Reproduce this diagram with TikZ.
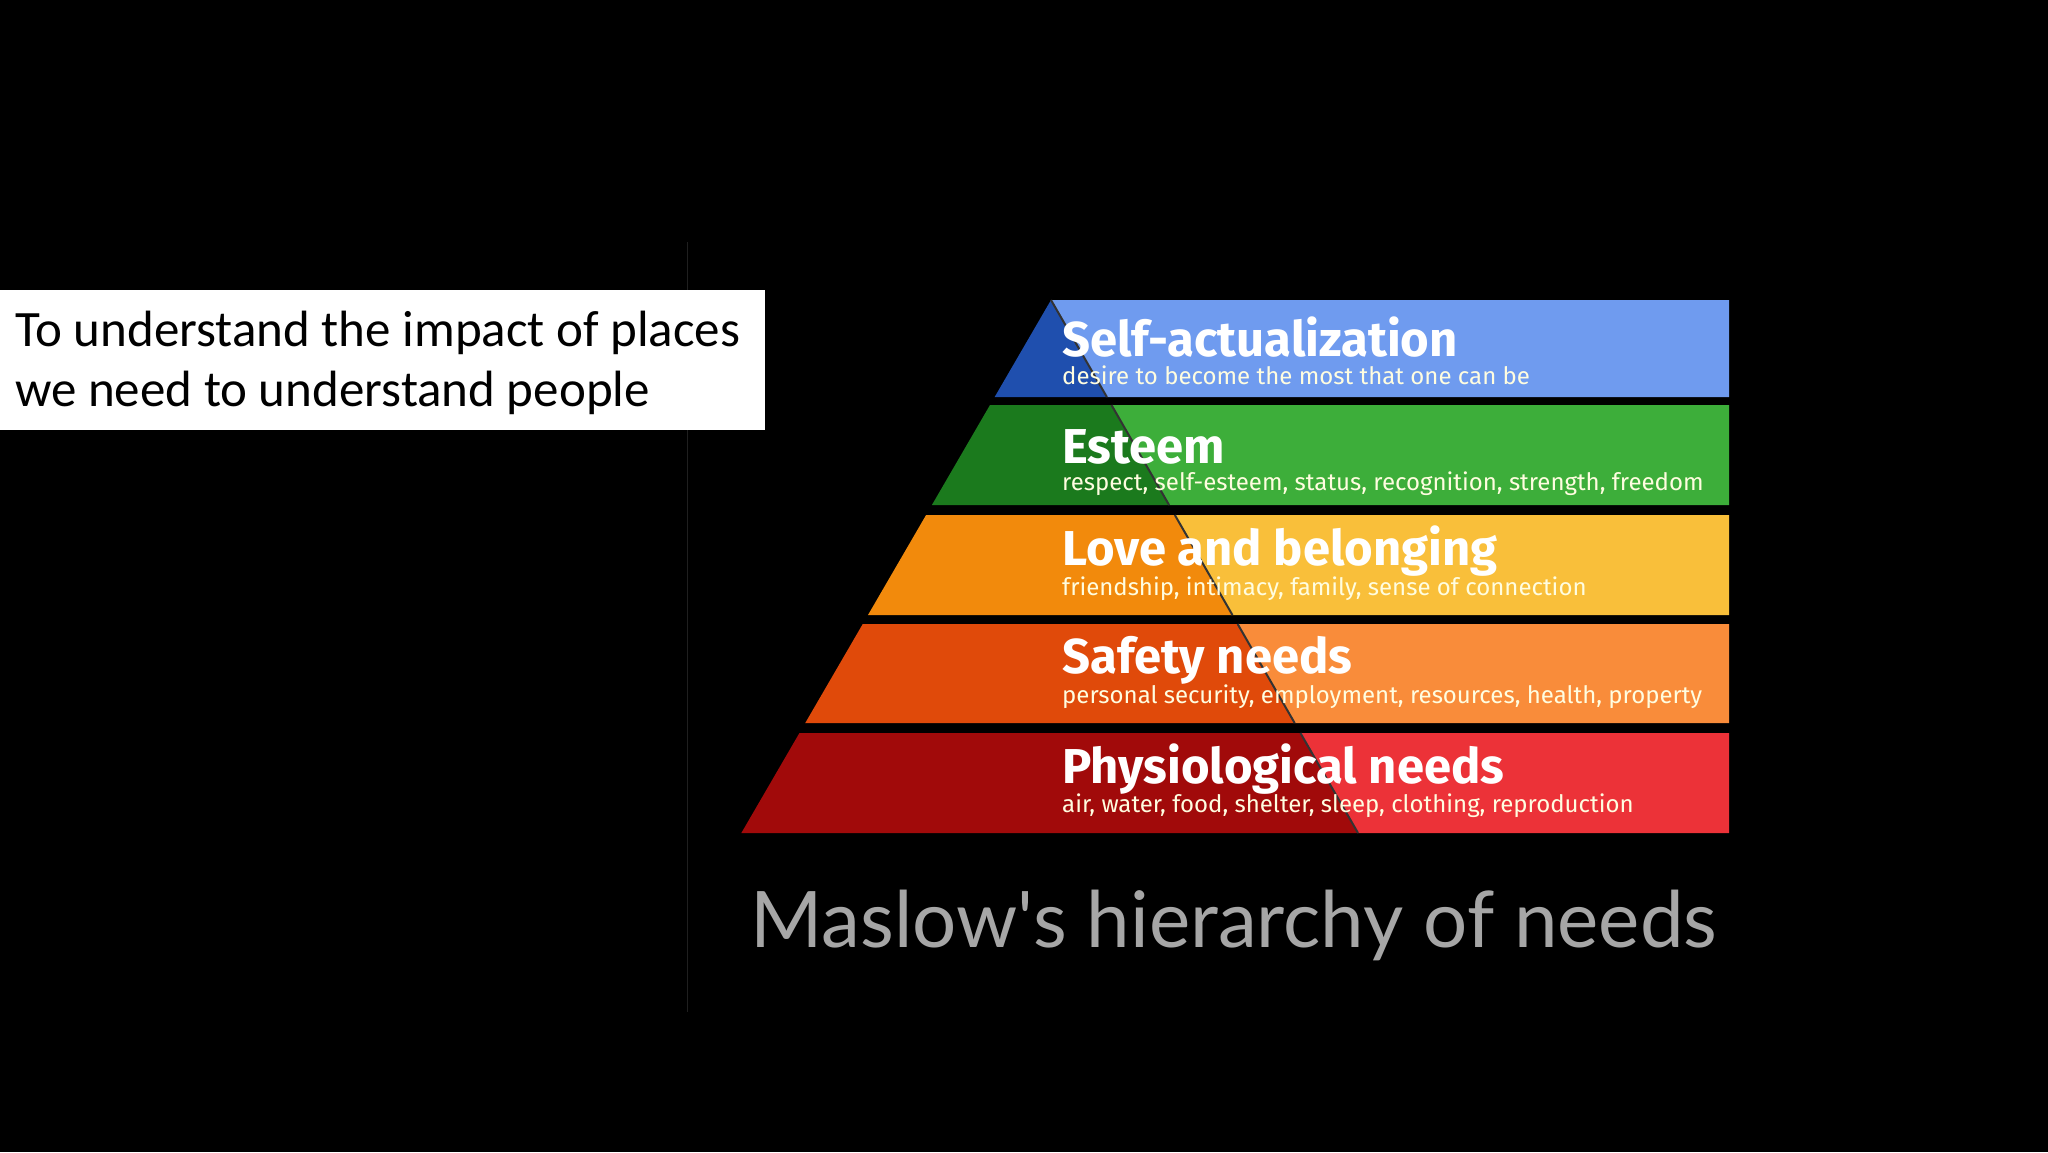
\documentclass[tikz,border=0pt]{standalone}
\usepackage{fontspec}
\setmainfont{Carlito}
\newfontfamily\fira{Fira Sans}
\newfontfamily\lato{Lato}
\definecolor{saD}{HTML}{1F4FAE}\definecolor{saL}{HTML}{6F9BEF}
\definecolor{esD}{HTML}{1B7A1D}\definecolor{esL}{HTML}{3DAE3A}
\definecolor{lbD}{HTML}{F28A0C}\definecolor{lbL}{HTML}{F9BF3A}
\definecolor{sfD}{HTML}{E04A0A}\definecolor{sfL}{HTML}{F98C3A}
\definecolor{phD}{HTML}{A10A0A}\definecolor{phL}{HTML}{EC3238}
\newcommand\mybandtile[4]{%
  \pgfmathsetmacro\lt{1051-0.581*(#1-300)}\pgfmathsetmacro\lb{1051-0.581*(#2-300)}%
  \pgfmathsetmacro\dt{1051+0.576*(#1-300)}\pgfmathsetmacro\db{1051+0.576*(#2-300)}%
  \fill[#3] (\lt,#1) -- (\dt,#1) -- (\db,#2) -- (\lb,#2) -- cycle;
  \fill[#4] (\dt,#1) -- (1729,#1) -- (1729,#2) -- (\db,#2) -- cycle;
  \draw[black!80,line width=2pt] (\dt,#1) -- (\db,#2);}
\tikzset{ttl/.style={anchor=west,text=white,font=\fira\bfseries\fontsize{49}{52}\selectfont,inner sep=0pt},
 sub/.style={anchor=west,text=white!88!yellow,font=\fira\fontsize{24}{28}\selectfont,inner sep=0pt}}
\begin{document}
\begin{tikzpicture}[x=1pt,y=-1pt]
\fill[black] (0,0) rectangle (2048,1152);
\useasboundingbox (0,0) rectangle (2048,1152);
\draw[black!88!white,line width=1pt] (687,242) -- (687,1012);
\fill[white] (0,290) rectangle (765,430);
\node[anchor=base west,inner sep=0pt,font=\fontsize{51}{56}\selectfont] (l1) at (15,346) {To understand the impact of places};
\node[anchor=base west,inner sep=0pt,font=\fontsize{51}{56}\selectfont] (l2) at (15,406) {we need to understand people};
\mybandtile{300}{397}{saD}{saL}
\mybandtile{405}{505}{esD}{esL}
\mybandtile{515}{615}{lbD}{lbL}
\mybandtile{624}{723}{sfD}{sfL}
\mybandtile{733}{833}{phD}{phL}
\node[ttl] (t1) at (1062,337) {Self-actualization};
\node[sub] (s1) at (1062,375) {desire to become the most that one can be};
\node[ttl] (t2) at (1062,447) {Esteem};
\node[sub] (s2) at (1062,484) {respect, self-esteem, status, recognition, strength, freedom};
\node[ttl] (t3) at (1062,551) {Love and belonging};
\node[sub] (s3) at (1062,589) {friendship, intimacy, family, sense of connection};
\node[ttl] (t4) at (1062,660) {Safety needs};
\node[sub] (s4) at (1062,697) {personal security, employment, resources, health, property};
\node[ttl] (t5) at (1062,769) {Physiological needs};
\node[sub] (s5) at (1062,806) {air, water, food, shelter, sleep, clothing, reproduction};
\node[text=black!35!white,font=\lato\fontsize{78}{84}\selectfont,inner sep=0pt] (cap) at (1234,925) {Maslow's hierarchy of needs};
\end{tikzpicture}
\end{document}
